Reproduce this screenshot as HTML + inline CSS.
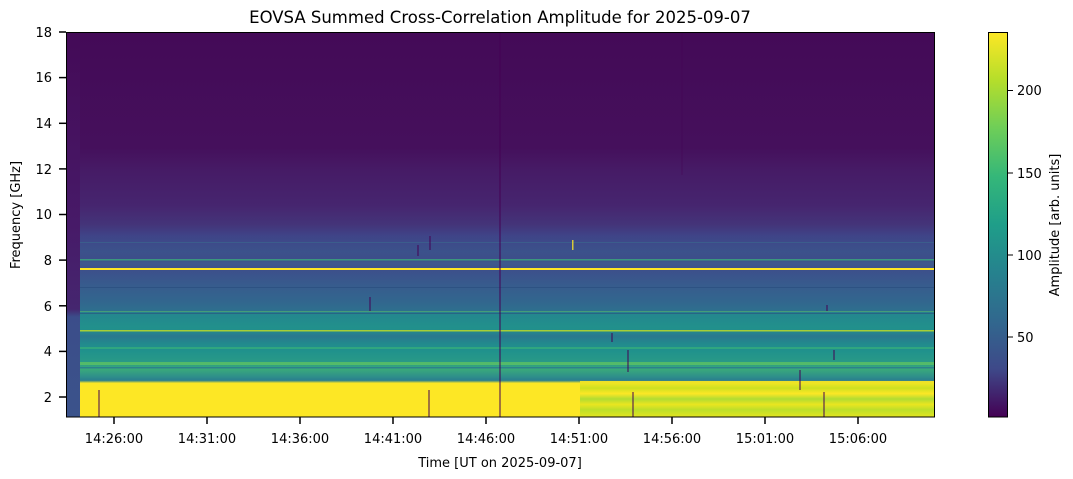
<!DOCTYPE html>
<html><head><meta charset="utf-8"><style>
html,body{margin:0;padding:0;background:#fff;}
svg{display:block;font-family:"DejaVu Sans","Liberation Sans",sans-serif;}
</style></head><body>
<svg width="1073" height="479" viewBox="0 0 1073 479" xmlns="http://www.w3.org/2000/svg">
<defs>
<linearGradient id="main" x1="0" y1="32" x2="0" y2="417" gradientUnits="userSpaceOnUse">
<stop offset="0" stop-color="#440a57"/>
<stop offset="0.3" stop-color="#45105c"/>
<stop offset="0.36" stop-color="#461b66"/>
<stop offset="0.45" stop-color="#46256f"/>
<stop offset="0.5" stop-color="#443479"/>
<stop offset="0.53" stop-color="#3f4488"/>
<stop offset="0.57" stop-color="#3b528b"/>
<stop offset="0.59" stop-color="#3d4e8a"/>
<stop offset="0.6" stop-color="#3e5a8c"/>
<stop offset="0.62" stop-color="#3c508b"/>
<stop offset="0.66" stop-color="#375c8d"/>
<stop offset="0.7" stop-color="#32668e"/>
<stop offset="0.725" stop-color="#2e6f8e"/>
<stop offset="0.73" stop-color="#24868e"/>
<stop offset="0.77" stop-color="#21918c"/>
<stop offset="0.79" stop-color="#2a788e"/>
<stop offset="0.81" stop-color="#228a8d"/>
<stop offset="0.83" stop-color="#20928c"/>
<stop offset="0.86" stop-color="#2a9a86"/>
<stop offset="0.875" stop-color="#3aaa7a"/>
<stop offset="0.895" stop-color="#2f8f8a"/>
<stop offset="0.905" stop-color="#2a7e8e"/>
<stop offset="0.912" stop-color="#fde725"/>
<stop offset="1" stop-color="#fde725"/>
</linearGradient>
<linearGradient id="left" x1="0" y1="32" x2="0" y2="417" gradientUnits="userSpaceOnUse">
<stop offset="0" stop-color="#440a57"/>
<stop offset="0.5" stop-color="#471a68"/>
<stop offset="0.72" stop-color="#45266f"/>
<stop offset="0.74" stop-color="#3b4d8a"/>
<stop offset="1" stop-color="#3b538b"/>
</linearGradient>
<linearGradient id="rlow" x1="0" y1="381" x2="0" y2="417" gradientUnits="userSpaceOnUse">
<stop offset="0" stop-color="#fde725"/>
<stop offset="0.2" stop-color="#c8e020"/>
<stop offset="0.35" stop-color="#fde725"/>
<stop offset="0.5" stop-color="#a8db34"/>
<stop offset="0.65" stop-color="#e8e51f"/>
<stop offset="0.8" stop-color="#b5de2b"/>
<stop offset="1" stop-color="#e0e31f"/>
</linearGradient>
<linearGradient id="cb" x1="0" y1="32" x2="0" y2="417" gradientUnits="userSpaceOnUse">
<stop offset="0" stop-color="#fde725"/>
<stop offset="0.125" stop-color="#b5de2b"/>
<stop offset="0.25" stop-color="#6ece58"/>
<stop offset="0.375" stop-color="#35b779"/>
<stop offset="0.5" stop-color="#1f9e89"/>
<stop offset="0.625" stop-color="#26828e"/>
<stop offset="0.75" stop-color="#31688e"/>
<stop offset="0.875" stop-color="#3e4989"/>
<stop offset="1" stop-color="#440154"/>
</linearGradient>
</defs>

<text x="500" y="23" font-size="16.5" text-anchor="middle" fill="#000">EOVSA Summed Cross-Correlation Amplitude for 2025-09-07</text>

<rect x="66" y="32" width="869" height="385" fill="url(#main)"/>
<rect x="580" y="381" width="355" height="36" fill="url(#rlow)" opacity="0.9"/>
<rect x="66" y="32" width="14" height="385" fill="url(#left)"/>

<rect x="80" y="259" width="855" height="1.5" fill="#3aaa7a" opacity="0.8"/>
<rect x="80" y="268" width="855" height="2" fill="#fde725"/>
<rect x="80" y="311" width="855" height="1" fill="#5ec962" opacity="0.5"/>
<rect x="80" y="330" width="855" height="1.5" fill="#c8e020" opacity="0.8"/>
<rect x="80" y="362" width="855" height="3" fill="#6ece58" opacity="0.6"/>
<rect x="80" y="367" width="855" height="1.5" fill="#2a788e" opacity="0.8"/>
<rect x="80" y="347" width="855" height="2" fill="#40bd72" opacity="0.5"/>
<rect x="80" y="287" width="855" height="1" fill="#2a4f7f" opacity="0.7"/>
<rect x="80" y="313" width="855" height="1" fill="#2a4f7f" opacity="0.6"/>
<rect x="80" y="242" width="855" height="1" fill="#3b6a8e" opacity="0.6"/>

<g stroke="#440154" stroke-width="1">
<line x1="500" y1="32" x2="500" y2="417"/>
<line x1="99" y1="390" x2="99" y2="417"/>
<line x1="429" y1="390" x2="429" y2="417"/>
<line x1="633" y1="392" x2="633" y2="417"/>
<line x1="824" y1="392" x2="824" y2="417"/>
<line x1="800" y1="370" x2="800" y2="390"/>
<line x1="628" y1="350" x2="628" y2="372"/>
<line x1="370" y1="297" x2="370" y2="311"/>
<line x1="418" y1="245" x2="418" y2="256"/>
<line x1="430" y1="236" x2="430" y2="250"/>
<line x1="682" y1="32" x2="682" y2="175" stroke-opacity="0.5"/>
<line x1="612" y1="333" x2="612" y2="342"/>
<line x1="827" y1="305" x2="827" y2="311"/>
<line x1="834" y1="350" x2="834" y2="360"/>
</g>
<rect x="572" y="240" width="1.5" height="10" fill="#fde725" opacity="0.8"/>

<rect x="66.5" y="32.5" width="868" height="384.5" fill="none" stroke="#000" stroke-width="1"/>

<g stroke="#000" stroke-width="1.5">
<line x1="59" y1="397" x2="66" y2="397"/>
<line x1="59" y1="351.4" x2="66" y2="351.4"/>
<line x1="59" y1="305.8" x2="66" y2="305.8"/>
<line x1="59" y1="260.1" x2="66" y2="260.1"/>
<line x1="59" y1="214.5" x2="66" y2="214.5"/>
<line x1="59" y1="168.9" x2="66" y2="168.9"/>
<line x1="59" y1="123.3" x2="66" y2="123.3"/>
<line x1="59" y1="77.6" x2="66" y2="77.6"/>
<line x1="59" y1="32" x2="66" y2="32"/>
</g>
<g font-size="13" text-anchor="end" fill="#000">
<text x="52" y="402">2</text>
<text x="52" y="356">4</text>
<text x="52" y="311">6</text>
<text x="52" y="265">8</text>
<text x="52" y="219">10</text>
<text x="52" y="174">12</text>
<text x="52" y="128">14</text>
<text x="52" y="82">16</text>
<text x="52" y="37">18</text>
</g>
<text transform="translate(20,215) rotate(-90)" font-size="13" text-anchor="middle">Frequency [GHz]</text>

<g stroke="#000" stroke-width="1.5">
<line x1="114" y1="417" x2="114" y2="424"/>
<line x1="207" y1="417" x2="207" y2="424"/>
<line x1="300" y1="417" x2="300" y2="424"/>
<line x1="393" y1="417" x2="393" y2="424"/>
<line x1="486" y1="417" x2="486" y2="424"/>
<line x1="579" y1="417" x2="579" y2="424"/>
<line x1="672" y1="417" x2="672" y2="424"/>
<line x1="765" y1="417" x2="765" y2="424"/>
<line x1="858" y1="417" x2="858" y2="424"/>
</g>
<g font-size="13" text-anchor="middle" fill="#000">
<text x="114" y="443">14:26:00</text>
<text x="207" y="443">14:31:00</text>
<text x="300" y="443">14:36:00</text>
<text x="393" y="443">14:41:00</text>
<text x="486" y="443">14:46:00</text>
<text x="579" y="443">14:51:00</text>
<text x="672" y="443">14:56:00</text>
<text x="765" y="443">15:01:00</text>
<text x="858" y="443">15:06:00</text>
</g>
<text x="500" y="467" font-size="13" text-anchor="middle">Time [UT on 2025-09-07]</text>

<rect x="988" y="32" width="20" height="385" fill="url(#cb)"/>
<rect x="988.5" y="32.5" width="19" height="384.5" fill="none" stroke="#000" stroke-width="1"/>
<g stroke="#000" stroke-width="1">
<line x1="1008" y1="90.5" x2="1013" y2="90.5"/>
<line x1="1008" y1="173" x2="1013" y2="173"/>
<line x1="1008" y1="255" x2="1013" y2="255"/>
<line x1="1008" y1="337" x2="1013" y2="337"/>
</g>
<g font-size="13" fill="#000">
<text x="1017" y="95">200</text>
<text x="1017" y="178">150</text>
<text x="1017" y="260">100</text>
<text x="1017" y="342">50</text>
</g>
<text transform="translate(1059,225) rotate(-90)" font-size="13" text-anchor="middle">Amplitude [arb. units]</text>
</svg>
</body></html>
